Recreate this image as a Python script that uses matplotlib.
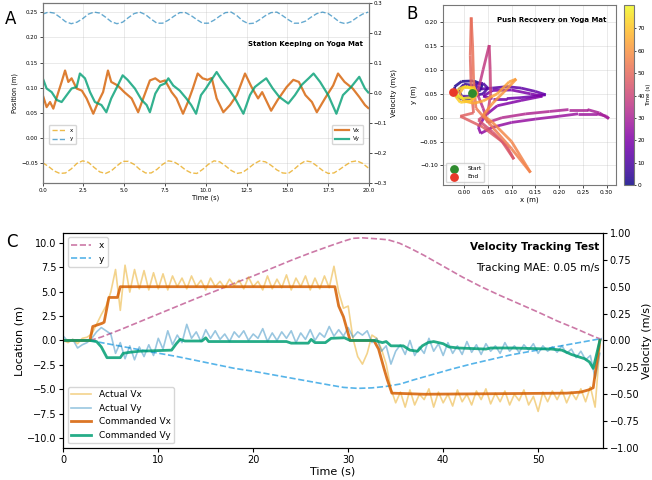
import numpy as np
import matplotlib
matplotlib.use("Agg")
import matplotlib.pyplot as plt
from matplotlib.collections import LineCollection
from matplotlib.colors import Normalize

# ---- panel A : station keeping ----
t_pos_a = [0, 0.35, 0.7, 1.05, 1.4, 1.75, 2.1, 2.45, 2.8, 3.15, 3.5, 3.85, 4.2, 4.55,
           4.9, 5.25, 5.6, 5.95, 6.3, 6.65, 7.0, 7.35, 7.7, 8.05, 8.4, 8.75, 9.1, 9.45,
           9.8, 10.15, 10.5, 10.85, 11.2, 11.55, 11.9, 12.25, 12.6, 12.95, 13.3, 13.65,
           14.0, 14.35, 14.7, 15.05, 15.4, 15.75, 16.1, 16.45, 16.8, 17.15, 17.5, 17.85,
           18.2, 18.55, 18.9, 19.25, 19.6, 19.95]
pos_y_a = [0.246, 0.250, 0.248, 0.240, 0.231, 0.227, 0.230, 0.237, 0.246, 0.250, 0.248,
           0.240, 0.231, 0.227, 0.230, 0.239, 0.247, 0.250, 0.245, 0.236, 0.228, 0.228,
           0.234, 0.242, 0.249, 0.249, 0.243, 0.235, 0.228, 0.228, 0.234, 0.242, 0.249,
           0.250, 0.243, 0.233, 0.227, 0.228, 0.235, 0.243, 0.249, 0.250, 0.243, 0.235,
           0.228, 0.228, 0.232, 0.240, 0.247, 0.250, 0.247, 0.239, 0.230, 0.227, 0.231,
           0.239, 0.246, 0.250]
pos_x_a = [-0.049, -0.056, -0.065, -0.070, -0.069, -0.061, -0.050, -0.045, -0.048,
           -0.058, -0.067, -0.070, -0.065, -0.055, -0.046, -0.046, -0.052, -0.062,
           -0.069, -0.069, -0.062, -0.052, -0.045, -0.047, -0.054, -0.063, -0.069,
           -0.070, -0.062, -0.052, -0.045, -0.047, -0.055, -0.064, -0.070, -0.068,
           -0.060, -0.051, -0.045, -0.047, -0.054, -0.063, -0.069, -0.070, -0.062,
           -0.052, -0.045, -0.047, -0.055, -0.064, -0.070, -0.069, -0.062, -0.054,
           -0.047, -0.045, -0.050, -0.059]

t_vx_a = [0.04, 0.24, 0.45, 0.65, 0.96, 1.16, 1.37, 1.57, 1.77, 2.08, 2.4, 2.69, 3.1,
          3.4, 3.7, 4.0, 4.2, 4.6, 5.0, 5.45, 5.85, 6.16, 6.57, 6.9, 7.2, 7.5, 7.9, 8.2,
          8.6, 8.9, 9.2, 9.5, 9.8, 10.1, 10.36, 10.66, 11.07, 11.48, 11.9, 12.4, 12.8,
          13.2, 13.45, 14.0, 14.4, 14.95, 15.36, 15.7, 16.1, 16.5, 16.8, 17.3, 17.8,
          18.1, 18.5, 19.0, 19.4, 19.75, 19.95]
vx_a = [-0.013, -0.047, -0.030, -0.052, 0.003, 0.037, 0.075, 0.037, 0.049, 0.015, 0.008,
        -0.018, -0.069, -0.030, 0.003, 0.075, 0.037, 0.025, 0.003, -0.018, -0.064,
        -0.018, 0.042, 0.049, 0.037, 0.042, 0.003, -0.018, -0.069, -0.030, 0.015,
        0.065, 0.049, 0.044, 0.050, -0.018, -0.064, -0.040, -0.007, 0.065, 0.020,
        -0.018, 0.003, -0.059, -0.023, 0.020, 0.044, 0.037, -0.007, -0.030, -0.064,
        -0.018, 0.025, 0.065, 0.037, 0.015, -0.013, -0.040, -0.050]
t_vy_a = [0.04, 0.24, 0.55, 0.86, 1.16, 1.47, 1.77, 2.08, 2.28, 2.59, 2.9, 3.2, 3.6,
          3.9, 4.2, 4.6, 4.9, 5.2, 5.65, 6.06, 6.37, 6.57, 6.9, 7.2, 7.5, 7.7, 8.0, 8.4,
          8.8, 9.1, 9.4, 9.7, 10.0, 10.26, 10.66, 10.97, 11.38, 11.79, 12.3, 12.7, 13.0,
          13.4, 13.7, 14.1, 14.5, 15.05, 15.46, 15.87, 16.3, 16.6, 17.0, 17.5, 18.0,
          18.4, 18.9, 19.4, 19.75, 19.95]
vy_a = [0.044, 0.015, 0.003, -0.023, -0.030, -0.007, 0.015, 0.020, 0.065, 0.049, 0.003,
        -0.030, -0.040, -0.064, -0.018, 0.025, 0.059, 0.044, 0.015, -0.023, -0.040,
        -0.064, -0.002, 0.025, 0.032, 0.049, 0.025, 0.008, -0.018, -0.040, -0.069,
        -0.007, 0.015, 0.037, 0.070, 0.044, 0.015, -0.018, -0.069, -0.007, 0.020,
        0.037, 0.049, 0.015, -0.013, -0.035, -0.007, 0.027, 0.049, 0.065, 0.037,
        -0.007, -0.069, -0.007, 0.020, 0.054, 0.015, 0.002]

# ---- panel B : push recovery trajectory ----
traj_x = [0.016, 0.035, 0.038, 0.02, -0.005, -0.02, -0.018, -0.005, 0.015, 0.028, 0.02,
          0.0, -0.012, -0.005, 0.015, 0.04, 0.05, 0.04, 0.02,
          0.035, 0.06, 0.09, 0.12, 0.15, 0.172, 0.15, 0.12, 0.09, 0.06, 0.04, 0.06, 0.10,
          0.14, 0.165, 0.12, 0.07, 0.045,
          0.03, 0.035, 0.06, 0.1, 0.15, 0.2, 0.24, 0.28, 0.3, 0.305, 0.285, 0.26, 0.22,
          0.18, 0.13, 0.08, 0.05, 0.04,
          0.028, 0.04, 0.053, 0.055, 0.056, 0.05,
          0.03, 0.06, 0.09, 0.105, 0.08, 0.04, -0.008, 0.02, 0.015, 0.013, 0.015, 0.018,
          0.02, 0.025,
          0.06, 0.1, 0.14, 0.1, 0.06, 0.04,
          0.06, 0.09, 0.11, 0.095, 0.07, 0.04, 0.02,
          0.0, -0.01, 0.0, 0.02, 0.028, 0.015, -0.008, -0.018, -0.012, 0.005, 0.02, 0.015,
          -0.005, -0.024]
traj_y = [0.051, 0.058, 0.07, 0.077, 0.076, 0.065, 0.048, 0.038, 0.04, 0.055, 0.068,
          0.07, 0.058, 0.045, 0.045, 0.05, 0.062, 0.072, 0.07,
          0.06, 0.062, 0.065, 0.062, 0.055, 0.048, 0.045, 0.042, 0.04, 0.04, 0.045, 0.057,
          0.058, 0.05, 0.045, 0.036, 0.025, 0.005,
          -0.02, -0.033, -0.02, -0.01, -0.003, 0.003, 0.008, 0.008, 0.003, -0.002, 0.01,
          0.017, 0.017, 0.013, 0.008, 0.0, -0.01, 0.02,
          0.05, 0.1, 0.152, 0.1, 0.05, 0.01,
          -0.005, -0.03, -0.06, -0.087, -0.05, -0.02, 0.003, 0.01, 0.06, 0.13, 0.21, 0.15,
          0.08, 0.02,
          -0.02, -0.065, -0.115, -0.05, -0.01, 0.005,
          0.03, 0.06, 0.081, 0.075, 0.05, 0.035, 0.03,
          0.035, 0.05, 0.065, 0.065, 0.05, 0.035, 0.032, 0.045, 0.06, 0.066, 0.058, 0.042,
          0.04, 0.054]
traj_t = [0, 0.6, 1.2, 1.8, 2.4, 3.0, 3.6, 4.2, 4.8, 5.4, 6.0, 6.6, 7.2, 7.8, 8.4, 9.0,
          9.6, 10.2, 10.8,
          11.5, 12.2, 12.9, 13.6, 14.3, 15.0, 15.6, 16.2, 16.8, 17.4, 18.0, 18.6, 19.2,
          19.8, 20.3, 20.9, 21.6, 22.3,
          23.0, 23.6, 24.2, 24.9, 25.6, 26.3, 27.0, 27.7, 28.3, 28.8, 29.4, 30.0, 30.7,
          31.4, 32.1, 32.8, 33.5, 34.2,
          35.0, 36.2, 37.4, 38.6, 39.8, 41.0,
          42.0, 43.0, 44.0, 45.0, 46.0, 46.8, 47.6, 48.4, 49.2, 50.0, 50.8, 51.5, 52.2,
          53.0,
          54.0, 55.0, 56.0, 57.0, 58.0, 59.0,
          60.0, 61.0, 62.0, 62.6, 63.4, 64.2, 65.0,
          66.0, 67.0, 68.0, 69.0, 70.0, 71.0, 72.0, 73.0, 74.0, 75.0, 76.0, 77.0, 78.0,
          80.5]

# ---- panel C : velocity tracking ----
t_pos_c = [0, 2.8, 4, 6, 8, 10, 12, 14, 16, 18, 20, 22, 24, 26, 28, 29.5, 30.5, 31.5,
           33, 34.2, 35.4, 36.5, 38, 40, 42, 44, 46, 48, 50, 52, 54, 56, 56.7]
pos_x_c = [0, 0, 0.35, 1.1, 1.9, 2.7, 3.5, 4.3, 5.05, 5.85, 6.6, 7.4, 8.2, 8.95, 9.65,
           10.15, 10.45, 10.5, 10.4, 10.3, 9.95, 9.45, 8.7, 7.6, 6.5, 5.5, 4.6, 3.75,
           2.9, 2.0, 1.2, 0.35, 0.1]
t_posy_c = [0, 2.8, 5, 7.5, 10, 12, 14, 16, 18, 20, 22, 24, 26, 28, 29.5, 31, 32.5, 34,
            35.5, 37, 39, 41, 43, 45, 47, 49, 51, 53, 55, 56.7]
pos_y_c = [0, 0, -0.4, -0.85, -1.3, -1.65, -2.05, -2.45, -2.85, -3.15, -3.5, -3.85,
           -4.2, -4.55, -4.8, -4.9, -4.85, -4.7, -4.45, -4.0, -3.45, -2.9, -2.4, -1.95,
           -1.5, -1.15, -0.8, -0.45, -0.1, 0.2]

t_act = np.arange(0, 57, 0.5)
act_vx = [0.00, -0.02, 0.01, -0.03, 0.02, 0.03, 0.06, 0.15, 0.24, 0.32, 0.45, 0.66,
          0.28, 0.70, 0.45, 0.66, 0.48, 0.65, 0.47, 0.63, 0.48, 0.62, 0.47, 0.60, 0.50,
          0.58, 0.48, 0.60, 0.50, 0.56, 0.47, 0.58, 0.50, 0.55, 0.49, 0.57, 0.51, 0.56,
          0.48, 0.59, 0.50, 0.55, 0.47, 0.60, 0.48, 0.57, 0.49, 0.61, 0.47, 0.58, 0.50,
          0.60, 0.47, 0.58, 0.48, 0.60, 0.49, 0.69, 0.45, 0.30, 0.32, 0.02, -0.15, -0.22,
          -0.12, 0.05, 0.02, -0.08, -0.22, -0.45, -0.58, -0.48, -0.62, -0.46, -0.60,
          -0.50, -0.55, -0.45, -0.62, -0.48, -0.58, -0.50, -0.61, -0.46, -0.57, -0.50,
          -0.60, -0.47, -0.55, -0.45, -0.59, -0.49, -0.57, -0.47, -0.60, -0.50, -0.56,
          -0.46, -0.60, -0.52, -0.66, -0.48, -0.57, -0.47, -0.55, -0.46, -0.58, -0.48,
          -0.55, -0.45, -0.57, -0.43, -0.62, -0.05]
act_vy = [0.04, -0.01, 0.01, -0.07, -0.04, -0.02, 0.02, 0.08, 0.12, 0.09, 0.06, -0.12,
          -0.02, -0.17, -0.05, -0.18, -0.06, -0.15, -0.04, -0.14, 0.02, -0.08, 0.09,
          -0.04, 0.05, -0.02, 0.15, 0.02, 0.08, -0.01, 0.10, 0.02, 0.09, 0.01, 0.06,
          -0.01, 0.08, 0.03, 0.09, 0.0, 0.06, 0.02, 0.11, -0.01, 0.07, 0.0, 0.08, 0.02,
          0.09, -0.02, 0.07, 0.01, 0.10, 0.0, 0.07, 0.03, 0.13, 0.04, 0.10, 0.04, 0.12,
          0.03, 0.08, 0.05, 0.09, -0.02, 0.02, -0.10, -0.05, -0.22, -0.10, -0.04, -0.13,
          0.0, -0.14, -0.06, -0.12, 0.02, -0.10, -0.03, -0.14, -0.02, -0.12, -0.05,
          -0.13, -0.01, -0.11, -0.04, -0.13, -0.03, -0.10, -0.05, -0.12, -0.02, -0.10,
          -0.05, -0.11, -0.04, -0.09, -0.03, -0.12, -0.05, -0.10, -0.06, -0.11, -0.05,
          -0.12, -0.08, -0.16, -0.10, -0.18, -0.14, -0.35, -0.12]

t_cmd_vx = [0, 2.8, 3.1, 4.1, 4.3, 4.8, 5.7, 6.0, 28.6, 29.0, 29.5, 30.2, 32.7, 33.2,
            33.8, 34.1, 34.6, 38.0, 53.0, 54.5, 55.3, 55.8, 56.1, 56.5]
cmd_vx = [0, 0, 0.13, 0.16, 0.17, 0.40, 0.40, 0.50, 0.50, 0.32, 0.22, 0.0, 0.0, -0.08,
          -0.27, -0.36, -0.49, -0.50, -0.49, -0.48, -0.46, -0.44, -0.25, 0.0]
t_cmd_vy = [0, 2.8, 3.5, 4.0, 4.6, 6.0, 6.3, 7.0, 8.0, 11.4, 11.9, 12.3, 12.8, 14.6,
            15.0, 15.3, 23.5, 24.0, 25.8, 26.1, 26.5, 27.6, 28.2, 29.6, 30.2, 32.8, 33.6,
            34.0, 34.5, 35.8, 36.5, 37.3, 37.8, 38.4, 39.0, 40.0, 40.6, 41.6, 44.5, 45.0,
            47.2, 51.4, 52.5, 53.5, 54.9, 55.4, 55.8, 56.1, 56.5]
cmd_vy = [0, 0, -0.01, -0.06, -0.16, -0.16, -0.12, -0.11, -0.10, -0.09, -0.03, 0.01,
          -0.005, -0.005, 0.025, -0.01, -0.01, -0.025, -0.025, 0.01, -0.02, -0.02, 0.02,
          0.025, 0.0, 0.0, -0.02, -0.01, -0.05, -0.05, -0.09, -0.10, -0.05, -0.02, -0.01,
          -0.03, -0.06, -0.07, -0.08, -0.07, -0.07, -0.08, -0.09, -0.13, -0.17, -0.2,
          -0.26, -0.15, 0.0]
mae = 0.05

ORANGE, SKY, BLUE = "#E69F00", "#56B4E9", "#0072B2"
VERM, GREEN, PINK = "#D55E00", "#009E73", "#CC79A7"

fig = plt.figure(figsize=(6.52, 4.8), dpi=100)

# A
axA = fig.add_axes([0.0655, 0.6187, 0.5005, 0.375])
axA.plot(t_pos_a, pos_x_a, "--", color=ORANGE, alpha=0.7, lw=1, label="x")
axA.plot(t_pos_a, pos_y_a, "--", color=BLUE, alpha=0.6, lw=1, label="y")
axA.set_xlim(0, 20)
axA.set_ylim(-0.089, 0.268)
axA.set_yticks([-0.05, 0, 0.05, 0.1, 0.15, 0.2, 0.25])
axA.set_xticks(np.arange(0, 20.1, 2.5))
axA.grid(True, alpha=0.3, lw=0.6)
axA.set_xlabel("Time (s)", fontsize=4.8, labelpad=1)
axA.set_ylabel("Position (m)", fontsize=4.8, labelpad=2)
axA.tick_params(labelsize=4, length=2, width=0.5, pad=1.5)
axA.legend(loc="lower left", bbox_to_anchor=(0.01, 0.2), fontsize=4, frameon=True,
           handlelength=2.5, borderpad=0.5, labelspacing=0.6)
axA2 = axA.twinx()
axA2.plot(t_vx_a, vx_a, color=VERM, alpha=0.8, lw=1.6, label="Vx")
axA2.plot(t_vy_a, vy_a, color=GREEN, alpha=0.8, lw=1.6, label="Vy")
axA2.set_ylim(-0.3, 0.3)
axA2.set_ylabel("Velocity (m/s)", fontsize=5, labelpad=2)
axA2.tick_params(labelsize=4, length=2, width=0.5, pad=1.5)
axA2.legend(loc="lower right", bbox_to_anchor=(0.99, 0.2), fontsize=4,
            handlelength=2.5, borderpad=0.5, labelspacing=0.6)
axA.text(0.98, 0.775, "Station Keeping on Yoga Mat", transform=axA.transAxes,
         ha="right", va="center", fontsize=5, fontweight="bold")
for a in (axA, axA2):
    for s in a.spines.values():
        s.set_color("#777777")

# B
axB = fig.add_axes([0.679, 0.6146, 0.2658, 0.375])
pts = np.column_stack([traj_x, traj_y])
segs = np.stack([pts[:-1], pts[1:]], axis=1)
tt = np.array(traj_t)
norm = Normalize(vmin=0, vmax=tt.max())
lc = LineCollection(segs, cmap="plasma", norm=norm, linewidths=2.0, alpha=0.85)
lc.set_array((tt[:-1] + tt[1:]) / 2)
axB.add_collection(lc)
axB.scatter([traj_x[0]], [traj_y[0]], color="#2e8b2e", s=28, zorder=5, label="Start")
axB.scatter([traj_x[-1]], [traj_y[-1]], color="#e8392a", s=28, zorder=5, label="End")
axB.set_xlim(-0.045, 0.32)
axB.set_ylim(-0.141, 0.236)
axB.set_xticks(np.arange(0, 0.31, 0.05))
axB.set_yticks(np.arange(-0.1, 0.21, 0.05))
axB.grid(True, alpha=0.3, lw=0.6)
axB.set_xlabel("x (m)", fontsize=5, labelpad=1.5)
axB.set_ylabel("y (m)", fontsize=5, labelpad=2)
axB.tick_params(labelsize=4.2, length=2, width=0.5, pad=1.5)
axB.legend(loc="lower left", fontsize=4.2, borderpad=0.5, handletextpad=1.2)
axB.text(0.948, 0.914, "Push Recovery on Yoga Mat", transform=axB.transAxes,
         ha="right", va="center", fontsize=5, fontweight="bold")
for s in axB.spines.values():
    s.set_color("#777777")
cax = fig.add_axes([0.9575, 0.6146, 0.0153, 0.375])
cb = fig.colorbar(lc, cax=cax)
cb.set_ticks(np.arange(0, 71, 10))
cb.ax.tick_params(labelsize=4.2, length=1.5, width=0.5, pad=1)
cb.set_label("Time (s)", fontsize=4, labelpad=0.5)
cb.outline.set_edgecolor("#777777")

# C
axC = fig.add_axes([0.0971, 0.0667, 0.8273, 0.448])
axC.plot(t_pos_c, pos_x_c, "--", color=PINK, lw=1.2, label="x")
axC.plot(t_posy_c, pos_y_c, "--", color=SKY, lw=1.2, label="y")
axC.set_xlim(0, 56.8)
axC.set_ylim(-11, 11)
axC.set_yticks(np.arange(-10, 10.1, 2.5))
axC.set_xlabel("Time (s)", fontsize=8, labelpad=1)
axC.set_ylabel("Location (m)", fontsize=8, labelpad=2)
axC.tick_params(labelsize=7, length=3, pad=2)
axC.legend(loc="upper left", fontsize=6.5, borderpad=0.4, handlelength=2.2)
axC2 = axC.twinx()
l1, = axC2.plot(t_act, act_vx, color=ORANGE, alpha=0.45, lw=1.2, label="Actual Vx")
l2, = axC2.plot(t_act, act_vy, color=BLUE, alpha=0.4, lw=1.2, label="Actual Vy")
l3, = axC2.plot(t_cmd_vx, cmd_vx, color=VERM, alpha=0.85, lw=2, label="Commanded Vx")
l4, = axC2.plot(t_cmd_vy, cmd_vy, color=GREEN, alpha=0.85, lw=2, label="Commanded Vy")
axC2.set_ylim(-1, 1)
axC2.set_yticks(np.arange(-1, 1.01, 0.25))
axC2.set_ylabel("Velocity (m/s)", fontsize=8, labelpad=2)
axC2.tick_params(labelsize=7, length=3, pad=2)
axC2.legend(handles=[l1, l2, l3, l4], loc="lower left", fontsize=6.5, borderpad=0.4,
            handlelength=2.2)
axC2.text(0.994, 0.936, "Velocity Tracking Test", transform=axC.transAxes, ha="right",
          va="center", fontsize=7.6, fontweight="bold")
axC2.text(0.994, 0.836, f"Tracking MAE: {mae:.2f} m/s", transform=axC.transAxes,
          ha="right", va="center", fontsize=7.6)

fig.text(0.008, 0.979, "A", fontsize=12, va="top")
fig.text(0.624, 0.99, "B", fontsize=12, va="top")
fig.text(0.009, 0.515, "C", fontsize=12, va="top")

fig.savefig("out.png", dpi=100)
